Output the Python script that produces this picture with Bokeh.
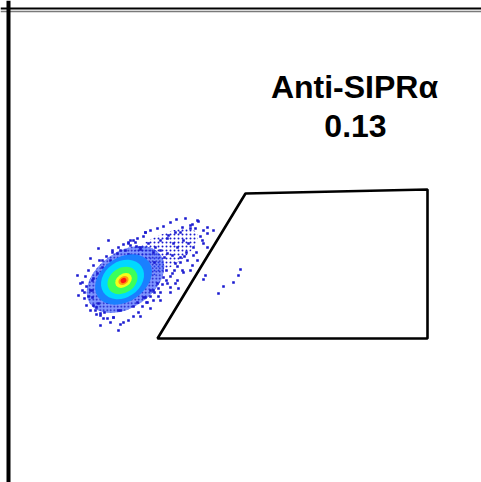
from bokeh.plotting import figure
from bokeh.models import Range1d, Span
from bokeh.core.properties import value
from bokeh.embed import file_html
from bokeh.resources import INLINE

# --- data (axis units: channel values, x to the right, y upward) ---
gate_x = [237, 419, 419, 149]
gate_y = [289, 293, 144, 144]

label_title = "Anti-SIPRα"
label_value = "0.13"

# density levels of the main population (outer -> inner)
lvl_x = [150, 117, 115, 114, 114, 115, 115, 115]
lvl_y = [228, 203, 203, 203, 202, 202, 202, 202]
lvl_w = [88, 86, 62, 46, 32, 18, 11, 6]
lvl_h = [34, 56, 44, 36, 25, 13, 8, 5]
lvl_angle = [0.5, 0.6, 0.6, 0.6, 0.6, 0.6, 0.6, 0.6]
lvl_color = ["#1a1ad0", "#2a50ff", "#1a80ff", "#00d8ff", "#3cff5a", "#f4ff1a", "#ff9a10", "#ff1a10"]

# sparse events around the population
ev_x = [190, 184, 182, 174, 167, 195, 192, 199, 137, 159, 152, 175, 180, 185, 169, 165,
        127, 122, 132, 140, 147, 152, 159, 164, 172, 179, 184, 189, 167, 174, 164, 155,
        149, 159, 167, 142, 135, 152, 145, 107, 99, 90, 92, 99, 105, 115, 87, 84,
        82, 84, 85, 89, 94, 102, 109, 117, 120, 78, 80, 88, 96, 110, 125, 138, 150,
        158, 146, 156, 128, 74, 76, 94, 104, 120, 132, 145,
        72, 74, 77, 76, 80, 78, 82, 85, 88, 91, 95, 98, 102, 104, 110, 112, 120, 125,
        130, 134, 139, 142, 146, 150, 154, 158, 162, 166, 169, 172, 176, 178, 115, 122,
        129, 135, 142, 149, 155, 162, 168, 177, 187, 194, 188, 182, 170, 162, 152, 142,
        132, 110, 92, 70, 69, 82, 90, 100,
        189, 199, 205, 182, 172, 160, 137, 125, 120, 112, 195, 199, 185, 175, 169, 162,
        145, 137, 129, 112, 105, 92, 85, 84]
ev_y = [261, 258, 254, 255, 250, 252, 246, 249, 250, 244, 242, 242, 239, 235, 235, 239,
        240, 237, 235, 239, 235, 232, 229, 227, 225, 222, 217, 222, 219, 212, 209, 205,
        199, 199, 199, 192, 185, 190, 182, 182, 180, 179, 167, 164, 165, 160, 172, 185,
        192, 202, 204, 209, 215, 222, 229, 232, 240, 196, 186, 175, 170, 172, 176, 180, 186,
        212, 220, 225, 236, 200, 190, 222, 230, 228, 233, 230,
        199, 192, 206, 184, 212, 177, 172, 217, 168, 222, 164, 226, 160, 232, 235, 158,
        162, 166, 170, 176, 180, 186, 190, 194, 198, 202, 206, 212, 216, 220, 226, 230,
        238, 242, 244, 246, 252, 254, 256, 260, 263, 264, 254, 242, 230, 212, 194, 190,
        182, 174, 166, 152, 157, 187, 207, 224, 234, 242,
        262, 255, 252, 257, 250, 247, 250, 242, 239, 232, 239, 235, 227, 210, 202, 195,
        192, 185, 180, 172, 165, 169, 177, 192]

# events inside the gate
gated_x = [197, 195, 210, 215, 225, 230, 232]
gated_y = [207, 203, 189, 196, 200, 207, 213]

p = figure(width=481, height=482, x_range=Range1d(-8, 473), y_range=Range1d(0, 482),
           output_backend="svg", toolbar_location=None, min_border=0)
p.axis.visible = False
p.grid.visible = False
p.outline_line_color = None
p.background_fill_color = "white"
p.border_fill_color = "white"

# frame lines (top and left)
p.add_layout(Span(location=474, dimension="width", line_color="black", line_width=2))
p.add_layout(Span(location=471, dimension="width", line_color="#7a7a7a", line_width=1.5))
p.add_layout(Span(location=0, dimension="height", line_color="black", line_width=4))

# sparse tail of the population: speckled fill
p.ellipse(x=lvl_x[0], y=lvl_y[0], width=lvl_w[0], height=lvl_h[0], angle=lvl_angle[0],
          fill_color=None, line_color=None, hatch_pattern="dot", hatch_scale=4,
          hatch_weight=2, hatch_color=lvl_color[0])
# dense blue body: light fill with dark speckles
p.ellipse(x=lvl_x[1], y=lvl_y[1], width=lvl_w[1], height=lvl_h[1], angle=lvl_angle[1],
          fill_color=lvl_color[1], fill_alpha=0.6, line_color=None,
          hatch_pattern="dot", hatch_scale=3.5, hatch_weight=2, hatch_color="#1414c0")
p.scatter(ev_x, ev_y, size=2.6, marker="square", fill_color="#1a1ad0", line_color=None)
p.scatter(gated_x, gated_y, size=2.6, marker="square", fill_color="#1a1ad0", line_color=None)
for i in range(2, len(lvl_x)):
    p.ellipse(x=lvl_x[i], y=lvl_y[i], width=lvl_w[i], height=lvl_h[i], angle=lvl_angle[i],
              fill_color=lvl_color[i], line_color=None)

p.patch(gate_x, gate_y, fill_color=None, line_color="black", line_width=2.6)

p.text(x=[346], y=[396], text=[label_title], text_font=value("Liberation Sans"),
       text_font_size="32px", text_font_style="bold", text_align="center",
       text_baseline="alphabetic", text_color="black")
p.text(x=[347], y=[357], text=[label_value], text_font=value("Liberation Sans"),
       text_font_size="32px", text_font_style="bold", text_align="center",
       text_baseline="alphabetic", text_color="black")

open("out.html", "w").write(file_html(p, INLINE))
